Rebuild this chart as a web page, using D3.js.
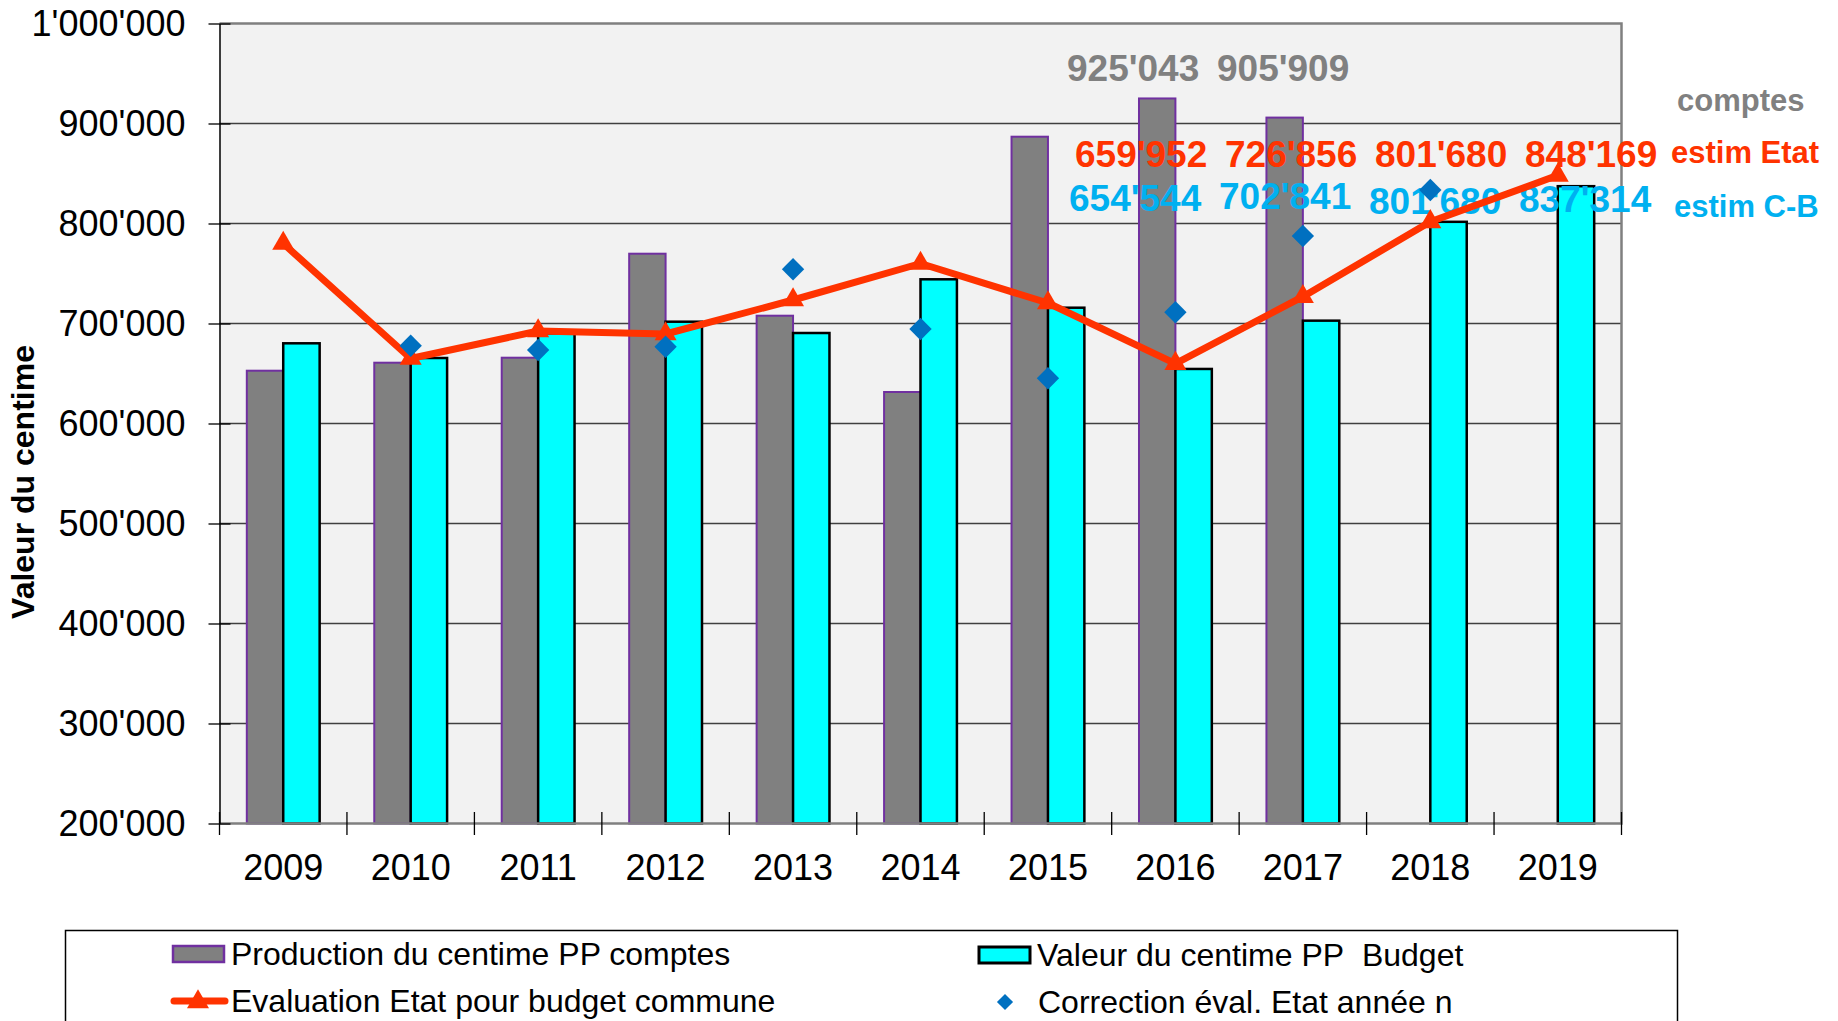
<!DOCTYPE html>
<html>
<head>
<meta charset="utf-8">
<script src="https://cdn.jsdelivr.net/npm/d3@7"></script>
<style>
  html, body { margin: 0; padding: 0; background: #fff; }
  svg { display: block; font-family: "Liberation Sans", Arial, sans-serif; }
</style>
</head>
<body>
<div id="chart"></div>
<script>
// categories
const years = ['2009', '2010', '2011', '2012', '2013', '2014', '2015', '2016', '2017', '2018', '2019'];

// series values
const comptes = [652800, 660800, 665800, 769800, 707800, 631500, 886800, 925043, 905909, null, null];
const budget = [680200, 665500, 690200, 701800, 690500, 744200, 715800, 654544, 702841, 801680, 837314];
const etat = [780000, 665000, 692500, 689500, 723500, 760000, 720500, 659952, 726856, 801680, 848169];
const correction = [null, 677800, 673500, 676800, 754200, 694500, 645200, 711200, 787500, 833500, null];

// tick values
const yTicks = [200000, 300000, 400000, 500000, 600000, 700000, 800000, 900000, 1000000];

// annotated years
const labelYearsComptes = ['2016', '2017'];
const labelYearsEstim = ['2016', '2017', '2018', '2019'];

const legendItems = [
    {key: 'comptes', text: 'Production du centime PP comptes'},
    {key: 'budget', text: 'Valeur du centime PP\u00a0\u00a0Budget'},
    {key: 'etat', text: 'Evaluation Etat pour budget commune'},
    {key: 'correction', text: 'Correction éval. Etat année n'}
];

const width = 1838, height = 1021;
const plot = {left: 219.5, right: 1621.5, top: 23.5, bottom: 823.5};

const colors = {
    gray: '#808080',
    purple: '#7030a0',
    cyan: '#00ffff',
    red: '#ff3300',
    blue: '#0070c0',
    lightBlue: '#00b0f0'
};

const locale = d3.formatLocale({decimal: '.', thousands: "'", grouping: [3], currency: ['', '']});
const fmt = locale.format(',d');

const svg = d3.select('#chart').append('svg')
    .attr('width', width)
    .attr('height', height);

svg.append('rect').attr('width', width).attr('height', height).attr('fill', '#fff');

// scales
const xScale = d3.scaleBand().domain(years).range([plot.left, plot.right]).padding(0);
const xSub = d3.scaleBand().domain(['comptes', 'budget']).range([0, xScale.bandwidth()])
    .paddingInner(0).paddingOuter(0.75);
const yScale = d3.scaleLinear().domain([200000, 1000000]).range([plot.bottom, plot.top]);
const cx = function (y) { return xScale(y) + xScale.bandwidth() / 2; };

// plot background
svg.append('rect')
    .attr('x', plot.left).attr('y', plot.top)
    .attr('width', plot.right - plot.left).attr('height', plot.bottom - plot.top)
    .attr('fill', '#f2f2f2');

// gridlines
svg.append('g').selectAll('line')
    .data(yTicks.slice(1, -1))
    .enter().append('line')
    .attr('x1', plot.left).attr('x2', plot.right)
    .attr('y1', function (d) { return yScale(d); })
    .attr('y2', function (d) { return yScale(d); })
    .attr('stroke', '#404040')
    .attr('stroke-width', 1.3);

// bars
const barData = [];
years.forEach(function (y, i) {
    if (comptes[i] != null) barData.push({year: y, key: 'comptes', value: comptes[i]});
    if (budget[i] != null) barData.push({year: y, key: 'budget', value: budget[i]});
});

svg.append('g').selectAll('rect')
    .data(barData)
    .enter().append('rect')
    .attr('x', function (d) { return xScale(d.year) + xSub(d.key); })
    .attr('y', function (d) { return yScale(d.value); })
    .attr('width', xSub.bandwidth())
    .attr('height', function (d) { return plot.bottom - yScale(d.value); })
    .attr('fill', function (d) { return d.key === 'comptes' ? colors.gray : colors.cyan; })
    .attr('stroke', function (d) { return d.key === 'comptes' ? colors.purple : '#000'; })
    .attr('stroke-width', function (d) { return d.key === 'comptes' ? 2 : 2.5; });

// plot border (top, right) and bottom line
svg.append('path')
    .attr('d', `M${plot.left},${plot.top}H${plot.right}V${plot.bottom}H${plot.left}`)
    .attr('fill', 'none')
    .attr('stroke', colors.gray)
    .attr('stroke-width', 2.5);

// value annotations (drawn under the line)
const colStart = d3.scaleLinear().domain([0, 3]).range([1070, 1520]);
const ann = svg.append('g').attr('font-weight', 'bold').attr('font-size', 37);

ann.selectAll('.lbl-comptes')
    .data(labelYearsComptes)
    .enter().append('text')
    .attr('class', 'lbl-comptes')
    .attr('x', function (d, i) { return colStart(i) - 3; })
    .attr('y', 80.5)
    .attr('fill', colors.gray)
    .text(function (d) { return fmt(comptes[years.indexOf(d)]); });

ann.selectAll('.lbl-etat')
    .data(labelYearsEstim)
    .enter().append('text')
    .attr('class', 'lbl-etat')
    .attr('x', function (d, i) { return colStart(i) + 5; })
    .attr('y', 166.5)
    .attr('fill', colors.red)
    .text(function (d) { return fmt(etat[years.indexOf(d)]); });

ann.selectAll('.lbl-budget')
    .data(labelYearsEstim)
    .enter().append('text')
    .attr('class', 'lbl-budget')
    .attr('x', function (d, i) { return colStart(i) - 1; })
    .attr('y', function (d, i) { return [210.5, 208.5, 213.5, 212][i]; })
    .attr('fill', colors.lightBlue)
    .text(function (d) { return fmt(budget[years.indexOf(d)]); });

const side = svg.append('g').attr('font-weight', 'bold').attr('font-size', 31);
side.append('text').attr('x', 1677).attr('y', 111).attr('fill', colors.gray).text('comptes');
side.append('text').attr('x', 1671).attr('y', 162.5).attr('fill', colors.red).text('estim Etat');
side.append('text').attr('x', 1674).attr('y', 217).attr('fill', colors.lightBlue).text('estim C-B');

// red line with triangles
const etatPts = years.map(function (y, i) { return {year: y, value: etat[i]}; });
const line = d3.line()
    .x(function (d) { return cx(d.year); })
    .y(function (d) { return yScale(d.value); });

svg.append('path')
    .datum(etatPts)
    .attr('d', line)
    .attr('fill', 'none')
    .attr('stroke', colors.red)
    .attr('stroke-width', 7)
    .attr('stroke-linejoin', 'round');

const tri = d3.symbol().type(d3.symbolTriangle).size(210);
svg.append('g').selectAll('path')
    .data(etatPts)
    .enter().append('path')
    .attr('d', tri)
    .attr('transform', function (d) { return `translate(${cx(d.year)},${yScale(d.value)})`; })
    .attr('fill', colors.red);

// diamonds
const diamond = d3.symbol().type(d3.symbolSquare).size(250);
svg.append('g').selectAll('path')
    .data(years.map(function (y, i) { return {year: y, value: correction[i]}; })
        .filter(function (d) { return d.value != null; }))
    .enter().append('path')
    .attr('d', diamond)
    .attr('transform', function (d) { return `translate(${cx(d.year)},${yScale(d.value)}) rotate(45)`; })
    .attr('fill', colors.blue);

// y axis
const yAxis = d3.axisLeft(yScale).tickValues(yTicks).tickFormat(fmt)
    .tickSizeInner(11).tickSizeOuter(0).tickPadding(23);
const gy = svg.append('g')
    .attr('transform', `translate(${plot.left},0)`)
    .call(yAxis);
gy.select('.domain').attr('stroke', '#000').attr('stroke-width', 1.5);
gy.selectAll('.tick line').attr('x1', 11).attr('stroke', '#000').attr('stroke-width', 1.3);
gy.selectAll('.tick text')
    .attr('font-size', 36)
    .attr('font-family', '"Liberation Sans", Arial, sans-serif')
    .attr('fill', '#000');

// x axis
const xAxis = d3.axisBottom(xScale).tickSize(0).tickPadding(0);
const gx = svg.append('g')
    .attr('transform', `translate(0,${plot.bottom})`)
    .call(xAxis);
gx.select('.domain').remove();
gx.selectAll('.tick text')
    .attr('y', 56)
    .attr('dy', 0)
    .attr('font-size', 36)
    .attr('font-family', '"Liberation Sans", Arial, sans-serif')
    .attr('fill', '#000');

// x separators crossing the axis
svg.append('g').selectAll('line')
    .data(years.concat(['end']))
    .enter().append('line')
    .attr('x1', function (d) { return d === 'end' ? plot.right : xScale(d); })
    .attr('x2', function (d) { return d === 'end' ? plot.right : xScale(d); })
    .attr('y1', plot.bottom - 11.5)
    .attr('y2', plot.bottom + 11.5)
    .attr('stroke', '#000')
    .attr('stroke-width', 1.3);

// y axis title
svg.append('text')
    .attr('transform', 'translate(34,482) rotate(-90)')
    .attr('text-anchor', 'middle')
    .attr('font-weight', 'bold')
    .attr('font-size', 32)
    .attr('fill', '#000')
    .text('Valeur du centime');

// legend
const legend = svg.append('g');
legend.append('rect')
    .attr('x', 65.5).attr('y', 930.5)
    .attr('width', 1612).attr('height', 200)
    .attr('fill', '#fff')
    .attr('stroke', '#000')
    .attr('stroke-width', 1.5);

const legendPos = {
    comptes: {x: 172, y: 954},
    budget: {x: 978, y: 955},
    etat: {x: 172, y: 1001},
    correction: {x: 978, y: 1002}
};

const li = legend.selectAll('.legend')
    .data(legendItems)
    .enter().append('g')
    .attr('class', 'legend')
    .attr('transform', function (d) { return `translate(${legendPos[d.key].x},${legendPos[d.key].y})`; });

li.each(function (d) {
    const g = d3.select(this);
    if (d.key === 'comptes' || d.key === 'budget') {
        g.append('rect')
            .attr('x', 1).attr('y', -8)
            .attr('width', 51).attr('height', 16)
            .attr('fill', d.key === 'comptes' ? colors.gray : colors.cyan)
            .attr('stroke', d.key === 'comptes' ? colors.purple : '#000')
            .attr('stroke-width', d.key === 'comptes' ? 2.5 : 3);
        g.append('text').attr('x', 59).attr('y', 11).attr('font-size', 32).text(d.text);
    } else if (d.key === 'etat') {
        g.append('line')
            .attr('x1', 2).attr('x2', 53).attr('y1', 0).attr('y2', 0)
            .attr('stroke', colors.red).attr('stroke-width', 7).attr('stroke-linecap', 'round');
        g.append('path').attr('d', tri).attr('transform', 'translate(26,1)').attr('fill', colors.red);
        g.append('text').attr('x', 59).attr('y', 11).attr('font-size', 32).text(d.text);
    } else {
        g.append('path')
            .attr('d', d3.symbol().type(d3.symbolSquare).size(130))
            .attr('transform', 'translate(27,0) rotate(45)')
            .attr('fill', colors.blue);
        g.append('text').attr('x', 60).attr('y', 11).attr('font-size', 32).text(d.text);
    }
});
</script>
</body>
</html>
